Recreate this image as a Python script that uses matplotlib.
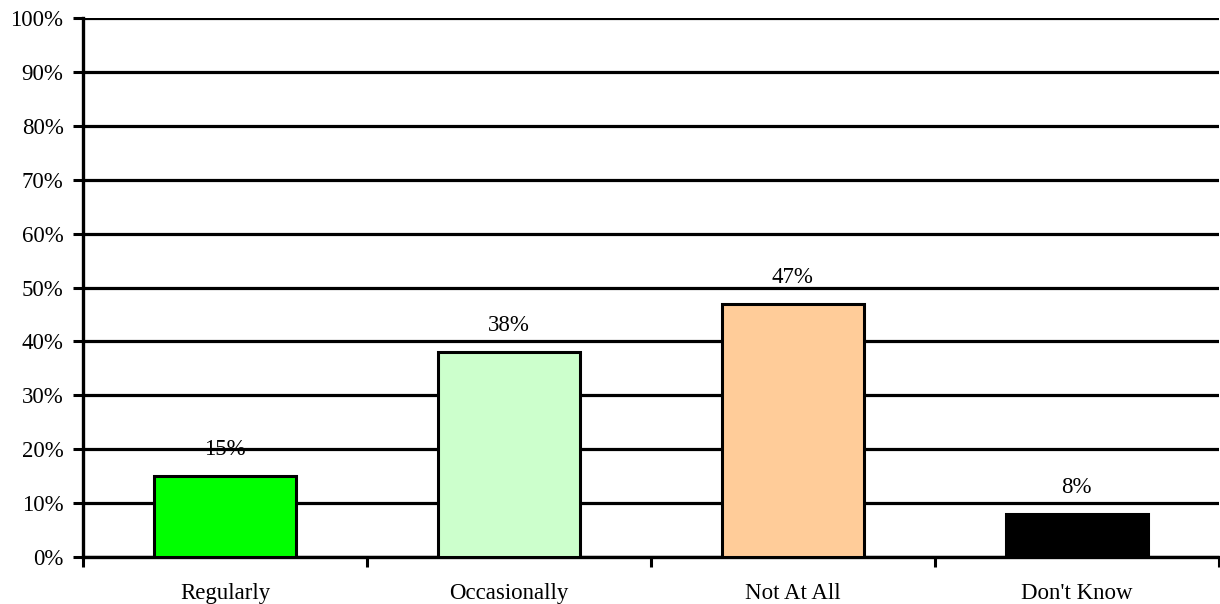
import matplotlib.pyplot as plt
from matplotlib.ticker import MultipleLocator, FuncFormatter, FixedLocator

# respuestas y porcentajes
categories = ['Regularly', 'Occasionally', 'Not At All', "Don't Know"]
values = [15, 38, 47, 8]
colors = ['#00FF00', '#CCFFCC', '#FFCC99', '#000000']

plt.rcParams['font.family'] = ['Liberation Serif', 'DejaVu Serif']

fig = plt.figure(figsize=(12.2, 6.04), dpi=100)
ax = fig.add_axes([0.068, 0.078, 0.931, 0.892])

x = list(range(len(categories)))
ax.bar(x, values, width=0.5, color=colors, edgecolor='black', linewidth=2.2, zorder=3)

for xi, v in zip(x, values):
    ax.annotate(f'{v}%', (xi, v), xytext=(0, 19), textcoords='offset points',
                ha='center', va='center', fontsize=16.5, zorder=4)

ax.set_xlim(-0.5, len(categories) - 0.5)
ax.set_ylim(0, 100)
ax.yaxis.set_major_locator(MultipleLocator(10))
ax.yaxis.set_major_formatter(FuncFormatter(lambda v, p: f'{v:.0f}%'))
ax.grid(axis='y', color='black', linewidth=2.3, zorder=1)

# marcas del eje x entre categorías, etiquetas centradas
ax.xaxis.set_major_locator(FixedLocator([i - 0.5 for i in range(len(categories) + 1)]))
ax.xaxis.set_major_formatter(FuncFormatter(lambda v, p: ''))
ax.set_xticks(x, categories, minor=True)
ax.tick_params(axis='x', which='minor', length=0, pad=19, labelsize=16.5)
ax.tick_params(axis='x', which='major', length=7, width=2.2, direction='out')
ax.tick_params(axis='y', length=7, width=2.2, labelsize=16.5, pad=7)

for side in ['top', 'right']:
    ax.spines[side].set_visible(False)
ax.spines['left'].set_linewidth(2.4)
ax.spines['bottom'].set_linewidth(2.4)

fig.savefig('out.png', dpi=100, facecolor='white')
